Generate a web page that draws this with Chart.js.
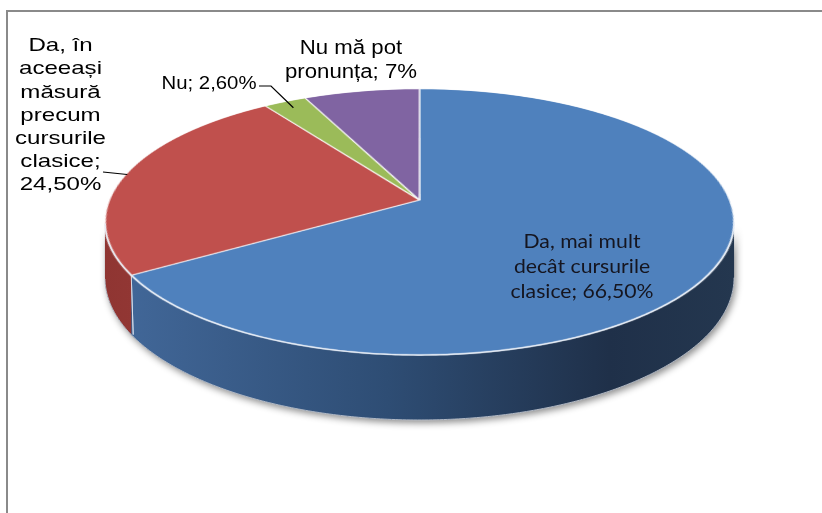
<!DOCTYPE html>
<html><head><meta charset="utf-8">
<script src="https://cdn.jsdelivr.net/npm/chart.js@4"></script>
<style>html,body{margin:0;padding:0;background:#fff;overflow:hidden}</style>
</head><body>
<div style="width:822px;height:513px"><canvas id="c" width="822" height="513"></canvas></div>
<script>
// ---- data ----
const categories = ['Da, mai mult decât cursurile clasice', 'Da, în aceeași măsură precum cursurile clasice', 'Nu', 'Nu mă pot pronunța'];
const values = [66.5, 24.5, 2.6, 7];
const valueLabels = ['66,50%', '24,50%', '2,60%', '7%'];
const topColors = ['#4f81bd', '#c0504d', '#9bbb59', '#8064a2'];
const wallColors = [
  ['#43699b', '#2e4d74', '#1f3049', '#24374f'],
  ['#8f3532', '#a94441', '#a94441', '#a94441'],
  ['#6f8a3c', '#7d9946', '#7d9946', '#7d9946'],
  ['#5a4478', '#654f85', '#654f85', '#654f85']
];

// ---- 3D projection layout (perspective of a tilted disc) ----
const P = {cx: 419.5, y0: 200, A: 129.4, B: 0.1654, C: 310.2, D: 54.2};
function proj(phi, r) {
  r = r === undefined ? 1 : r;
  const u = r * Math.sin(phi), v = r * Math.cos(phi);
  const d = 1 + P.B * v;
  return [P.cx + P.C * u / d, P.y0 - P.A * v / d, P.D / d];
}
function vOf(y) { const w = (P.y0 - y) / P.A; return w / (1 - w * P.B); }

// label layout: word counts per line, position, font
const labelLayout = [
  {breaks: [3, 2, 2], cx: 582, y: 242, lh: 25, size: 19, family: 'Lato', color: '#15151f', width: 143},
  {breaks: [2, 1, 1, 1, 1, 1, 1], cx: 60.5, y: 46, lh: 23.2, size: 19, family: '"Liberation Sans"', color: '#000', width: 91,
   leader: {from: [[103, 172]], r: 0.995}},
  {breaks: [2], cx: 209, y: 84, lh: 20, size: 18, family: '"Liberation Sans"', color: '#000', width: 95,
   leader: {from: [[259, 86], [271, 86]], r: 0.93}},
  {breaks: [3, 2], cx: 351, y: 48, lh: 24.5, size: 20, family: '"Liberation Sans"', color: '#000', width: 132}
];

const off = document.createElement('canvas');

function phiRange(arc) { return [arc.startAngle + Math.PI / 2, arc.endAngle + Math.PI / 2]; }

const pie3d = {
  id: 'pie3d',
  afterDatasetsDraw(chart) {
    const ctx = chart.ctx;
    const dpr = chart.currentDevicePixelRatio || 1;
    const arcs = chart.getDatasetMeta(0).data;
    const a0 = arcs[0];
    const R = a0.outerRadius, M = 3;
    const S = 2 * R + 2 * M;
    // copy the flat pie drawn by Chart.js
    off.width = Math.ceil(S * dpr); off.height = Math.ceil(S * dpr);
    const octx = off.getContext('2d');
    octx.drawImage(chart.canvas, (a0.x - R - M) * dpr, (a0.y - R - M) * dpr, S * dpr, S * dpr, 0, 0, S * dpr, S * dpr);

    const W = chart.width, H = chart.height;
    ctx.save();
    ctx.clearRect(0, 0, W, H);
    ctx.fillStyle = '#ffffff';
    ctx.fillRect(0, 0, W, H);
    // frame
    ctx.fillStyle = '#8a8a8a';
    ctx.fillRect(6, 10, W - 6, 2);
    ctx.fillRect(6, 10, 2, H - 10);

    // visible wall range
    const pa = Math.acos(-P.B), pb = 2 * Math.PI - pa;
    const wallPath = (p1, p2) => {
      ctx.beginPath();
      const n = Math.max(2, Math.ceil((p2 - p1) / 0.01));
      for (let i = 0; i <= n; i++) {
        const q = proj(p1 + (p2 - p1) * i / n);
        if (i === 0) ctx.moveTo(q[0], q[1]); else ctx.lineTo(q[0], q[1]);
      }
      for (let i = n; i >= 0; i--) {
        const q = proj(p1 + (p2 - p1) * i / n);
        ctx.lineTo(q[0], q[1] + q[2]);
      }
      ctx.closePath();
    };
    // shadow
    ctx.save();
    wallPath(pa, pb);
    ctx.shadowColor = 'rgba(0,0,0,0.45)';
    ctx.shadowBlur = 7; ctx.shadowOffsetX = 2; ctx.shadowOffsetY = 3;
    ctx.fillStyle = '#2a4566';
    ctx.fill();
    ctx.restore();
    // walls per slice
    const xl = P.cx - P.C * 1.02, xr = P.cx + P.C * 1.02;
    arcs.forEach((arc, i) => {
      let [p1, p2] = phiRange(arc);
      for (const k of [-2 * Math.PI, 0, 2 * Math.PI]) {
        const s = Math.max(p1 + k, pa), e = Math.min(p2 + k, pb);
        if (e <= s) continue;
        const g = ctx.createLinearGradient(xl, 0, xr, 0);
        const wc = wallColors[i];
        g.addColorStop(0, wc[0]); g.addColorStop(0.45, wc[1]); g.addColorStop(0.8, wc[2]); g.addColorStop(1, wc[3]);
        wallPath(s, e);
        ctx.fillStyle = g;
        ctx.fill();
        // separating edge lines
        ctx.strokeStyle = 'rgba(225,230,240,0.8)';
        ctx.lineWidth = 1;
        for (const t of [s, e]) {
          if (Math.abs(t - pa) < 1e-6 || Math.abs(t - pb) < 1e-6) continue;
          const q = proj(t);
          ctx.beginPath(); ctx.moveTo(q[0], q[1]); ctx.lineTo(q[0] + 2, q[1] + q[2]); ctx.stroke();
        }
      }
    });
    // bottom rim
    ctx.beginPath();
    for (let t = pa; t <= pb; t += 0.01) { const q = proj(t); if (t === pa) ctx.moveTo(q[0], q[1] + q[2]); else ctx.lineTo(q[0], q[1] + q[2]); }
    ctx.strokeStyle = 'rgba(190,195,205,0.9)'; ctx.lineWidth = 1; ctx.stroke();

    // warp the flat pie onto the tilted top face
    const top = proj(0)[1], bot = proj(Math.PI)[1];
    for (let y = Math.floor(top) - 1; y < Math.ceil(bot) + 1; y++) {
      let vt = Math.min(1.005, vOf(y)), vb = Math.max(-1.005, vOf(y + 1));
      if (vt <= vb) continue;
      const vm = Math.max(-1, Math.min(1, vOf(y + 0.5)));
      const hw = P.C / (1 + P.B * vm) * (R + M) / R;
      const s1 = (R + M - vt * R) * dpr, s2 = (R + M - vb * R) * dpr;
      ctx.drawImage(off, 0, s1, S * dpr, s2 - s1, P.cx - hw, y, 2 * hw, 1);
    }
    // front rim highlight
    ctx.beginPath();
    for (let t = pa; t <= pb; t += 0.01) { const q = proj(t); if (t === pa) ctx.moveTo(q[0], q[1]); else ctx.lineTo(q[0], q[1]); }
    ctx.strokeStyle = 'rgba(230,236,246,0.9)'; ctx.lineWidth = 1.2; ctx.stroke();
    ctx.restore();
  },
  afterDraw(chart) {
    const ctx = chart.ctx;
    const arcs = chart.getDatasetMeta(0).data;
    ctx.save();
    labelLayout.forEach((L, i) => {
      const words = (categories[i] + '; ' + valueLabels[i]).split(' ');
      const lines = []; let k = 0;
      L.breaks.forEach(n => { lines.push(words.slice(k, k + n).join(' ')); k += n; });
      ctx.font = L.size + 'px ' + L.family;
      const mw = Math.max(...lines.map(s => ctx.measureText(s).width));
      const sx = L.width / mw;
      ctx.fillStyle = L.color;
      ctx.textAlign = 'center';
      ctx.textBaseline = 'middle';
      lines.forEach((s, j) => {
        ctx.save();
        ctx.translate(L.cx, L.y + j * L.lh);
        ctx.scale(sx, 1);
        ctx.fillText(s, 0, 0);
        ctx.restore();
      });
      if (L.leader) {
        const [p1, p2] = phiRange(arcs[i]);
        const q = proj((p1 + p2) / 2, L.leader.r);
        ctx.beginPath();
        L.leader.from.forEach((p, j) => j ? ctx.lineTo(p[0], p[1]) : ctx.moveTo(p[0], p[1]));
        ctx.lineTo(q[0], q[1]);
        ctx.strokeStyle = '#000'; ctx.lineWidth = 1.2; ctx.stroke();
      }
    });
    ctx.restore();
  }
};

new Chart(document.getElementById('c'), {
  type: 'pie',
  data: {
    labels: categories,
    datasets: [{
      data: values,
      backgroundColor: topColors,
      borderColor: 'rgba(255,255,255,0.85)',
      borderWidth: 1.5,
      radius: 250,
      clip: false
    }]
  },
  options: {
    responsive: false,
    animation: false,
    events: [],
    layout: {padding: 0},
    plugins: {legend: {display: false}, tooltip: {enabled: false}}
  },
  plugins: [pie3d]
});
</script>
</body></html>
